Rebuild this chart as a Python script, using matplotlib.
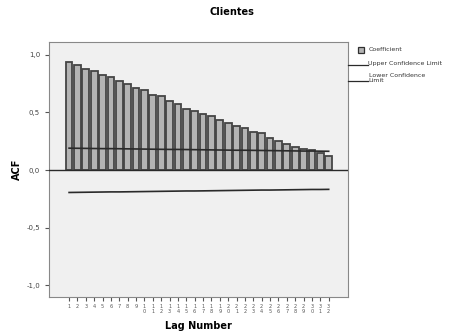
import matplotlib
matplotlib.use("Agg")
import matplotlib.pyplot as plt
from matplotlib.lines import Line2D
from matplotlib.patches import Rectangle

lags = list(range(1, 33))
acf = [0.94, 0.915, 0.878, 0.858, 0.823, 0.81, 0.768, 0.748, 0.71, 0.69,
       0.655, 0.645, 0.598, 0.571, 0.533, 0.511, 0.484, 0.47, 0.435, 0.41,
       0.38, 0.362, 0.333, 0.319, 0.275, 0.255, 0.223, 0.203, 0.185, 0.171,
       0.15, 0.124]
upper = [0.190, 0.189, 0.188, 0.187, 0.186, 0.186, 0.185, 0.184, 0.183, 0.182,
         0.181, 0.180, 0.179, 0.179, 0.178, 0.177, 0.176, 0.175, 0.174, 0.173,
         0.172, 0.172, 0.171, 0.170, 0.169, 0.168, 0.167, 0.166, 0.165, 0.165,
         0.164, 0.163]
lower = [-0.194, -0.193, -0.192, -0.191, -0.190, -0.189, -0.189, -0.188, -0.187, -0.186,
         -0.185, -0.184, -0.183, -0.182, -0.181, -0.181, -0.180, -0.179, -0.178, -0.177,
         -0.176, -0.175, -0.174, -0.173, -0.173, -0.172, -0.171, -0.170, -0.169, -0.168,
         -0.168, -0.167]
xlabels = ["\n".join(str(n)) for n in lags]
yticks = [-1.0, -0.5, 0.0, 0.5, 1.0]
ylabels = ["-1,0", "-0,5", "0,0", "0,5", "1,0"]

fig = plt.figure(figsize=(4.55, 3.36), dpi=100)
ax = fig.add_axes([0.1077, 0.116, 0.657, 0.759])
ax.set_facecolor("#f0f0f0")

ax.bar(lags, acf, width=0.8, color="#b4b4b4", edgecolor="#454545", linewidth=1.3, zorder=2)
ax.plot(lags, upper, color="#2a2a2a", linewidth=1.2, zorder=3)
ax.plot(lags, lower, color="#2a2a2a", linewidth=1.2, zorder=3)
ax.axhline(0, color="#2a2a2a", linewidth=1.0, zorder=4)

ax.set_xlim(-1.4, 34.3)
ax.set_ylim(-1.1, 1.11)
ax.set_xticks(lags)
ax.set_xticklabels(xlabels, fontsize=3.6, linespacing=1.0, color="#555555")
ax.set_yticks(yticks)
ax.set_yticklabels(ylabels, fontsize=5, color="#444444")
ax.tick_params(axis="both", direction="out", length=3, width=0.8, color="#555555")
ax.tick_params(axis="x", pad=2)
for s in ax.spines.values():
    s.set_color("#888888")
    s.set_linewidth(0.8)

ax.set_ylabel("ACF", fontsize=7, fontweight="bold", labelpad=3)
ax.set_xlabel("Lag Number", fontsize=7, fontweight="bold", labelpad=5)
fig.text(0.51, 0.963, "Clientes", ha="center", va="center", fontsize=7, fontweight="bold")

# legend (outside, right)
fig.patches.append(Rectangle((0.786, 0.843), 0.013, 0.017, transform=fig.transFigure,
                             facecolor="#b4b4b4", edgecolor="#303030", linewidth=0.9))
fig.text(0.81, 0.852, "Coefficient", fontsize=4.5, va="center", color="#333333")
fig.lines.append(Line2D([0.765, 0.808], [0.806, 0.806], transform=fig.transFigure,
                        color="#2a2a2a", linewidth=0.9))
fig.text(0.808, 0.812, "Upper Confidence Limit", fontsize=4.5, va="center", color="#333333")
fig.lines.append(Line2D([0.765, 0.808], [0.76, 0.76], transform=fig.transFigure,
                        color="#2a2a2a", linewidth=0.9))
fig.text(0.81, 0.767, "Lower Confidence\nLimit", fontsize=4.5, va="center",
         color="#333333", linespacing=1.0)

fig.savefig("out.png", dpi=100, facecolor="white")
